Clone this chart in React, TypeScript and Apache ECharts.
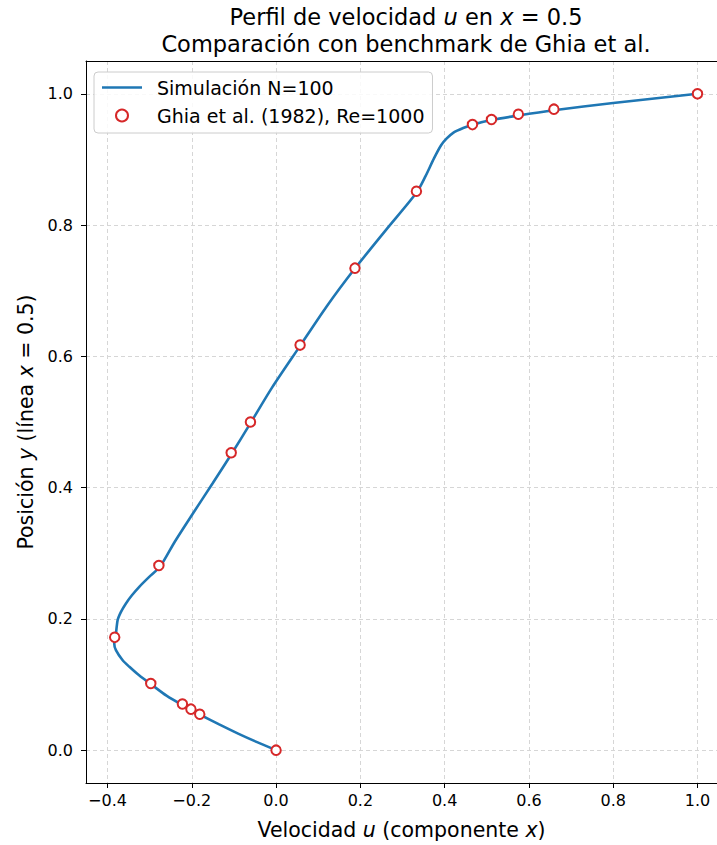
import React, { useEffect, useRef } from 'react';
import * as echarts from 'echarts';

// Simulation N=100 profile (u along vertical centerline)
const simU = [0.0, -0.045, -0.09, -0.135, -0.18, -0.222, -0.26, -0.295, -0.325, -0.348, -0.364, -0.38, -0.384, -0.3813, -0.3759, -0.368, -0.3562, -0.342, -0.3246, -0.301, -0.2755, -0.24, -0.2, -0.15, -0.105, -0.06, -0.01, 0.057, 0.12, 0.186, 0.26, 0.334, 0.355, 0.375, 0.392, 0.405, 0.421, 0.444, 0.466, 0.511, 0.575, 0.659, 0.8, 1.0];
const simY = [0.0, 0.0122, 0.0252, 0.0392, 0.054, 0.0686, 0.083, 0.0996, 0.114, 0.127, 0.137, 0.1524, 0.1626, 0.1697, 0.1982, 0.2108, 0.2236, 0.236, 0.2489, 0.264, 0.2794, 0.318, 0.358, 0.407, 0.452, 0.499, 0.552, 0.616, 0.676, 0.733, 0.792, 0.85, 0.875, 0.902, 0.922, 0.932, 0.941, 0.948, 0.953, 0.96, 0.967, 0.975, 0.986, 1.0];

// Ghia et al. (1982), Re = 1000
const ghiaU = [1.0, 0.65928, 0.57492, 0.51117, 0.46604, 0.33304, 0.18719, 0.05702, -0.0608, -0.10648, -0.27805, -0.38289, -0.2973, -0.2222, -0.20196, -0.18109, 0.0];
const ghiaY = [1.0, 0.9766, 0.9688, 0.9609, 0.9531, 0.8516, 0.7344, 0.6172, 0.5, 0.4531, 0.2813, 0.1719, 0.1016, 0.0703, 0.0625, 0.0547, 0.0];

const xTicks = [-0.4, -0.2, 0.0, 0.2, 0.4, 0.6, 0.8, 1.0];
const yTicks = [0.0, 0.2, 0.4, 0.6, 0.8, 1.0];

const simName = 'Simulación N=100';
const ghiaName = 'Ghia et al. (1982), Re=1000';

const FONT = 'DejaVu Sans';
const X_MIN = -0.451;
const X_MAX = 1.0463;
const Y_MIN = -0.05;
const Y_MAX = 1.05;

const fmt = (v: number) => {
  const s = Math.abs(v) < 1e-9 ? '0.0' : v.toFixed(1);
  return s.replace('-', '\u2212');
};

export default function App() {
  const ref = useRef<HTMLDivElement>(null);
  useEffect(() => {
    document.body.style.margin = '0';
    const chart = echarts.init(ref.current!, null, { renderer: 'svg' });
    const italic = { fontFamily: FONT, fontStyle: 'italic' as const };
    chart.setOption({
      animation: false,
      backgroundColor: '#ffffff',
      textStyle: { fontFamily: FONT },
      title: {
        text: 'Perfil de velocidad {i|u} en {i|x} = 0.5\nComparación con benchmark de Ghia et al.',
        left: 406,
        top: 3,
        padding: 0,
        textAlign: 'center',
        textStyle: {
          fontFamily: FONT,
          fontSize: 22.5,
          fontWeight: 'normal',
          color: '#000',
          lineHeight: 27,
          rich: { i: { ...italic, fontSize: 22.5, lineHeight: 27, color: '#000' } },
        },
      },
      grid: { left: 86, top: 61, width: 631, height: 722, show: false },
      legend: {
        orient: 'vertical',
        left: 94,
        top: 72,
        padding: [6, 8, 8, 8],
        itemGap: 9,
        itemWidth: 40,
        itemHeight: 12,
        backgroundColor: 'rgba(255,255,255,0.85)',
        borderColor: '#cccccc',
        borderWidth: 1,
        borderRadius: 4,
        textStyle: { fontFamily: FONT, fontSize: 19, color: '#000', lineHeight: 19, padding: [0, 0, 0, 10] },
        data: [
          { name: simName, icon: 'path://M0,0H40V2.6H0Z', itemStyle: { color: '#1f77b4' } },
          { name: ghiaName, icon: 'circle', itemStyle: { color: '#ffffff', borderColor: '#d62728', borderWidth: 2 } },
        ],
      },
      xAxis: [
        {
          type: 'value',
          min: X_MIN,
          max: X_MAX,
          name: 'Velocidad {i|u} (componente {i|x})',
          nameLocation: 'middle',
          nameGap: 36,
          nameTextStyle: { fontFamily: FONT, fontSize: 20.5, color: '#000', rich: { i: { ...italic, fontSize: 20.5, color: '#000' } } },
          axisLine: { show: true, onZero: false, lineStyle: { color: '#000', width: 1 } },
          axisTick: { show: true, inside: false, length: 5, customValues: xTicks, lineStyle: { color: '#000' } },
          axisLabel: { customValues: xTicks, formatter: fmt, fontFamily: FONT, fontSize: 16, color: '#000', margin: 9 },
          splitLine: { show: true, lineStyle: { color: '#d6d6d6', type: [4, 3], width: 1 } },
        },
        {
          type: 'value',
          position: 'top',
          min: X_MIN,
          max: X_MAX,
          axisLine: { show: true, onZero: false, lineStyle: { color: '#000', width: 1 } },
          axisTick: { show: false },
          axisLabel: { show: false },
          splitLine: { show: false },
        },
      ],
      yAxis: {
        type: 'value',
        min: Y_MIN,
        max: Y_MAX,
        name: 'Posición {i|y} (línea {i|x} = 0.5)',
        nameLocation: 'middle',
        nameRotate: 90,
        nameGap: 50,
        nameTextStyle: { fontFamily: FONT, fontSize: 20.5, color: '#000', rich: { i: { ...italic, fontSize: 20.5, color: '#000' } } },
        axisLine: { show: true, onZero: false, lineStyle: { color: '#000', width: 1 } },
        axisTick: { show: true, inside: false, length: 5, customValues: yTicks, lineStyle: { color: '#000' } },
        axisLabel: { customValues: yTicks, formatter: fmt, fontFamily: FONT, fontSize: 16, color: '#000', margin: 13 },
        splitLine: { show: true, lineStyle: { color: '#d6d6d6', type: [4, 3], width: 1 } },
      },
      series: [
        {
          name: simName,
          type: 'line',
          xAxisIndex: 0,
          data: simU.map((u, i) => [u, simY[i]]),
          showSymbol: false,
          symbol: 'none',
          smooth: 0.25,
          lineStyle: { color: '#1f77b4', width: 2.6 },
          itemStyle: { color: '#1f77b4' },
          z: 2,
        },
        {
          name: ghiaName,
          type: 'scatter',
          xAxisIndex: 0,
          data: ghiaU.map((u, i) => [u, ghiaY[i]]),
          symbol: 'circle',
          symbolSize: 9.5,
          itemStyle: { color: '#ffffff', borderColor: '#d62728', borderWidth: 2, opacity: 1 },
          z: 3,
        },
      ],
    });
    return () => chart.dispose();
  }, []);
  return <div ref={ref} style={{ width: 717, height: 845 }} />;
}
